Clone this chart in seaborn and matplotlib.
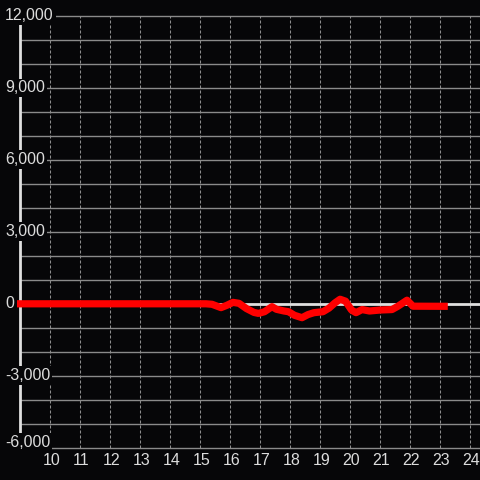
import matplotlib
matplotlib.use("Agg")
import matplotlib.pyplot as plt
import matplotlib.transforms as mtransforms
import seaborn as sns
import pandas as pd

# ---- data ----
hours = [8.9, 15.2, 15.4, 15.7, 15.9, 16.1, 16.3, 16.55, 16.8, 16.95, 17.15, 17.4,
         17.55, 17.8, 17.95, 18.15, 18.4, 18.6, 18.8, 19.1, 19.3, 19.5, 19.67,
         19.85, 20.05, 20.2, 20.4, 20.65, 21.0, 21.4, 21.6, 21.9, 22.1, 23.26]
values = [0, 0, -20, -160, -60, 60, 20, -200, -360, -400, -330, -120,
          -230, -300, -330, -480, -580, -450, -370, -330, -180, 40, 190,
          110, -260, -370, -240, -300, -260, -240, -100, 150, -100, -105]
x_ticks = list(range(10, 25))
y_ticks = [12000, 9000, 6000, 3000, 0, -3000, -6000]
y_grid = list(range(-6000, 12001, 1000))
y_tick_labels = ["12,000", "9,000", "6,000", "3,000", "0", "-3,000", "-6,000"]

df = pd.DataFrame({"hour": hours, "value": values})

sns.set_style("dark")
plt.rcParams["font.family"] = ["Liberation Sans", "DejaVu Sans"]

BG = "#060608"
TXT = "#dcdcdc"

fig = plt.figure(figsize=(4.8, 4.8), dpi=100)
fig.patch.set_facecolor(BG)
ax = fig.add_axes([0, 0, 1, 1])
ax.set_facecolor(BG)

px_per_x = 30.0
x0 = 10 - 50 / px_per_x
ax.set_xlim(x0, x0 + 480 / px_per_x)
ppu = (447.7 - 16) / 18000.0
ax.set_ylim(-6000 - (480 - 447.7) / ppu, 12000 + 16 / ppu)
for s in ax.spines.values():
    s.set_visible(False)
ax.set_xticks([])
ax.set_yticks([])
ax.grid(False)

spine_x = 9.0
xmax = x0 + 480 / px_per_x

# horizontal grid
for v in y_grid:
    if v == 0:
        continue
    start = 10.0 if v == -6000 else spine_x
    ax.plot([start, xmax], [v, v], color="#8a8a8a", lw=1.0, zorder=1, solid_capstyle="butt")

# vertical dashed grid
for t in x_ticks:
    ax.plot([t, t], [-6000, 12000], color="#8e8e8e", lw=0.75, ls=(0, (2.9, 1.9)), zorder=1)

# zero line
ax.plot([spine_x, xmax], [0, 0], color="#e0e0e0", lw=2.0, zorder=2, solid_capstyle="butt")
# left spine
ax.plot([spine_x, spine_x], [-6000, 12000], color="#e0e0e0", lw=2.0, zorder=2, solid_capstyle="butt")

# red line
sns.lineplot(data=df, x="hour", y="value", ax=ax, color="#ff0000", lw=5.2,
             zorder=3, legend=False, estimator=None, sort=False)
for ln in ax.lines[-1:]:
    ln.set_solid_capstyle("butt")
    ln.set_solid_joinstyle("round")

# y labels
xfrac = mtransforms.blended_transform_factory(ax.transAxes, ax.transData)
for v, lab in zip(y_ticks, y_tick_labels):
    tr = xfrac
    if v == -6000:
        tr = xfrac + mtransforms.ScaledTranslation(0, 4.0 / 72, fig.dpi_scale_trans)
    ax.text(5.0 / 480, v, lab, transform=tr, ha="left", va="center", color=TXT,
            fontsize=11.5, zorder=5,
            bbox=dict(boxstyle="square,pad=0.12", fc=BG, ec="none"))

# x labels
yfrac = mtransforms.blended_transform_factory(ax.transData, ax.transAxes)
for t in x_ticks:
    ax.text(t + 0.04, 1 - 460.5 / 480, str(t), transform=yfrac, ha="center", va="center",
            color=TXT, fontsize=11.5, zorder=5)

fig.savefig("out.png", dpi=100, facecolor=BG)
